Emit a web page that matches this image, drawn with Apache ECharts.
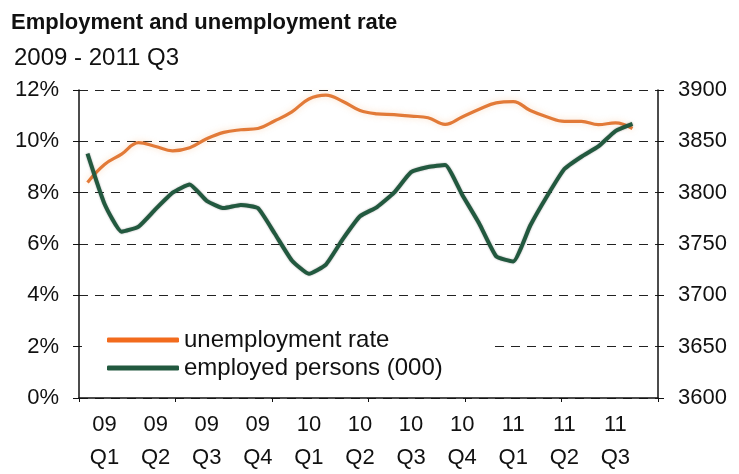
<!DOCTYPE html>
<html>
<head>
<meta charset="utf-8">
<script src="https://cdn.jsdelivr.net/npm/echarts@6/dist/echarts.min.js"></script>
<style>
  html, body { margin: 0; padding: 0; background: #fff; }
  #chart { width: 739px; height: 474px; }
</style>
</head>
<body>
<div id="chart"></div>
<script>
// Months Jan 2009 .. Oct 2011 (last slot is empty padding on the axis)
const months = [
  '2009-01','2009-02','2009-03','2009-04','2009-05','2009-06','2009-07','2009-08','2009-09','2009-10','2009-11','2009-12',
  '2010-01','2010-02','2010-03','2010-04','2010-05','2010-06','2010-07','2010-08','2010-09','2010-10','2010-11','2010-12',
  '2011-01','2011-02','2011-03','2011-04','2011-05','2011-06','2011-07','2011-08','2011-09','2011-10'
];

// Quarter labels, shown under the middle month of each quarter
const quarterLabels = {
  1: '09\nQ1', 4: '09\nQ2', 7: '09\nQ3', 10: '09\nQ4',
  13: '10\nQ1', 16: '10\nQ2', 19: '10\nQ3', 22: '10\nQ4',
  25: '11\nQ1', 28: '11\nQ2', 31: '11\nQ3'
};

// Unemployment rate, %
const unemploymentRate = [
  8.4, 9.1, 9.5, 9.95, 9.8, 9.63, 9.75, 10.1, 10.35, 10.45, 10.5, 10.8,
  11.15, 11.65, 11.8, 11.55, 11.2, 11.07, 11.04, 10.98, 10.92, 10.66, 10.95, 11.25,
  11.5, 11.55, 11.2, 10.95, 10.78, 10.78, 10.65, 10.72, 10.5
];

// Employed persons, thousands
const employedPersons = [
  3838, 3789, 3762, 3767, 3784, 3800, 3808, 3792, 3785, 3788, 3785, 3760,
  3734, 3721, 3730, 3755, 3777, 3786, 3800, 3820, 3825, 3827, 3798, 3770,
  3738, 3733, 3768, 3797, 3823, 3835, 3845, 3860, 3867
];

const font = 'Liberation Sans, Arial, sans-serif';
const chart = echarts.init(document.getElementById('chart'), null, { renderer: 'canvas' });

chart.setOption({
  animation: false,
  backgroundColor: '#ffffff',
  title: [
    {
      text: 'Employment and unemployment rate',
      left: 6, top: 7,
      textStyle: { fontFamily: font, fontWeight: 'bold', fontSize: 22, color: '#111' }
    },
    {
      text: '2009 - 2011 Q3',
      left: 9, top: 41,
      textStyle: { fontFamily: font, fontWeight: 'normal', fontSize: 24, color: '#111' }
    }
  ],
  legend: {
    orient: 'vertical',
    left: 82, top: 318,
    itemGap: 4,
    itemWidth: 72, itemHeight: 5,
    icon: 'roundRect',
    backgroundColor: '#ffffff',
    padding: [10, 50, 14, 25],
    textStyle: { fontFamily: font, fontSize: 24, color: '#111' },
    data: [
      { name: 'unemployment rate', itemStyle: { color: '#f26b1d' } },
      { name: 'employed persons (000)', itemStyle: { color: '#22593f' } }
    ]
  },
  grid: { left: 79, right: 81, top: 90, bottom: 71, containLabel: false },
  xAxis: [
    {
      type: 'category',
      data: months,
      boundaryGap: true,
      axisLine: { show: true, lineStyle: { color: '#111', width: 1.5 } },
      axisTick: { show: false },
      axisLabel: {
        interval: 0,
        fontFamily: font, fontSize: 22, color: '#111',
        lineHeight: 33, margin: 10,
        formatter: (v, i) => quarterLabels[i] || ''
      },
      splitLine: { show: false }
    },
    {
      // Tick marks along the bottom edge
      type: 'value',
      min: 0, max: 6, interval: 1,
      position: 'bottom',
      axisLine: { show: false },
      axisTick: { show: true, length: 4, lineStyle: { color: '#111', width: 1 } },
      axisLabel: { show: false },
      splitLine: { show: false }
    }
  ],
  yAxis: [
    {
      type: 'value',
      min: 0, max: 12, interval: 2,
      position: 'left',
      axisLine: { show: true, lineStyle: { color: '#111', width: 1.5 } },
      axisTick: { show: true, length: 6, lineStyle: { color: '#111' } },
      axisLabel: {
        fontFamily: font, fontSize: 22, color: '#111', margin: 20,
        formatter: v => v + '%'
      },
      splitLine: { show: true, lineStyle: { color: '#222', type: [9, 7], width: 1 } }
    },
    {
      type: 'value',
      min: 3600, max: 3900, interval: 50,
      position: 'right',
      axisLine: { show: true, lineStyle: { color: '#111', width: 1.5 } },
      axisTick: { show: true, length: 6, lineStyle: { color: '#111' } },
      axisLabel: {
        fontFamily: font, fontSize: 22, color: '#111', margin: 20,
        formatter: v => String(v)
      },
      splitLine: { show: false }
    }
  ],
  series: [
    {
      name: 'unemployment rate',
      type: 'line',
      xAxisIndex: 0, yAxisIndex: 0,
      data: unemploymentRate,
      smooth: 0.4,
      showSymbol: false,
      lineStyle: { color: '#e27a38', width: 3.2, shadowColor: 'rgba(240,160,90,0.35)', shadowBlur: 6 },
      itemStyle: { color: '#e27a38' },
      z: 3
    },
    {
      name: 'employed persons (000)',
      type: 'line',
      xAxisIndex: 0, yAxisIndex: 1,
      data: employedPersons,
      smooth: 0.15,
      showSymbol: false,
      lineStyle: { color: '#22593f', width: 4, shadowColor: 'rgba(0,0,0,0.35)', shadowBlur: 2 },
      itemStyle: { color: '#22593f' },
      z: 4
    }
  ]
});
</script>
</body>
</html>
